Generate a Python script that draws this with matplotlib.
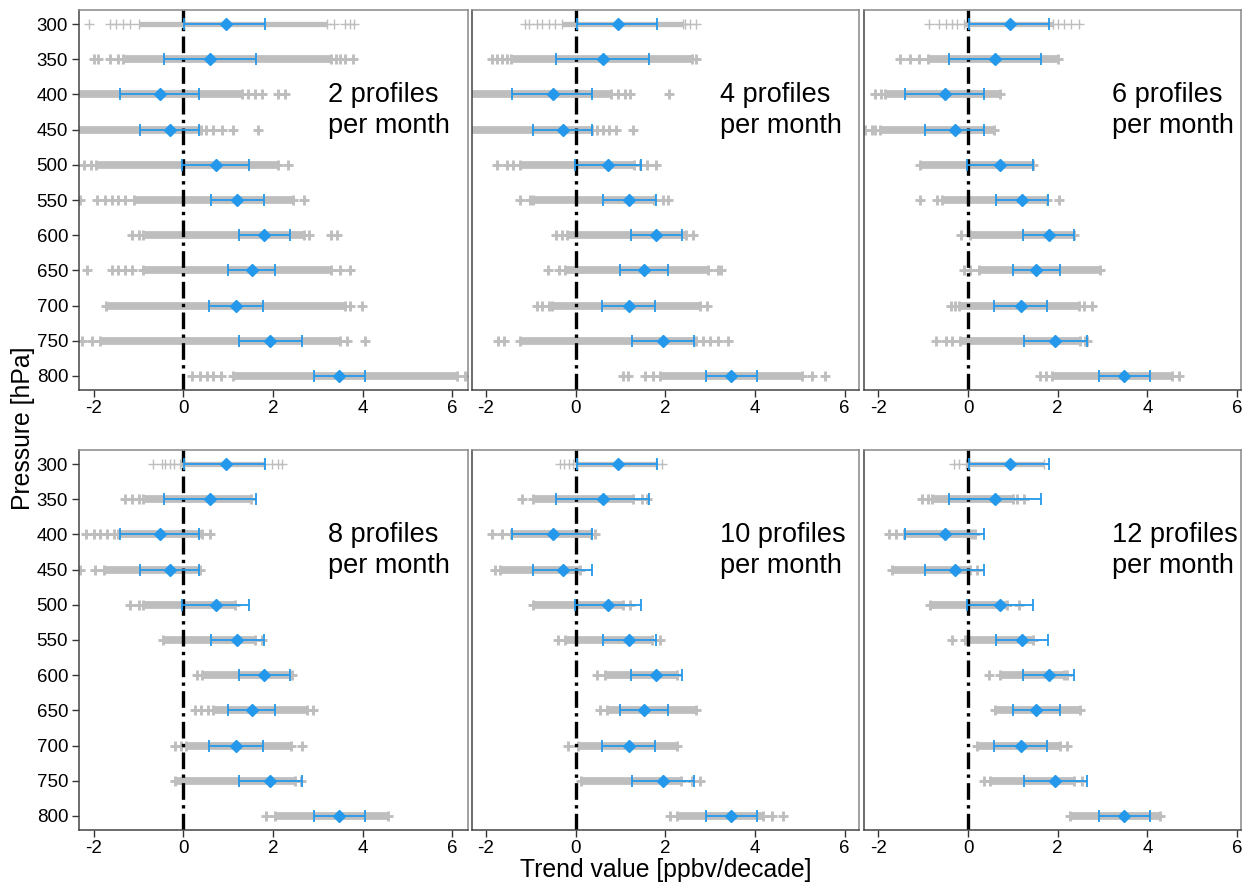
import matplotlib
matplotlib.use("Agg")
import matplotlib.pyplot as plt

plt.rcParams["font.family"] = ["Liberation Sans", "DejaVu Sans"]

# Pressure levels (hPa)
pressure = [300, 350, 400, 450, 500, 550, 600, 650, 700, 750, 800]

# Reference trend and its confidence interval (ppbv/decade)
trend_mean = [0.94, 0.60, -0.51, -0.29, 0.72, 1.20, 1.80, 1.52, 1.18, 1.94, 3.47]
ci_lo = [0.02, -0.43, -1.41, -0.96, -0.02, 0.62, 1.23, 1.00, 0.58, 1.25, 2.91]
ci_hi = [1.81, 1.63, 0.36, 0.36, 1.46, 1.79, 2.37, 2.05, 1.77, 2.65, 4.05]

# Subsampled trends: dense range per level plus isolated values
core_lo_2 = [-1.0, -1.34, -2.5, -2.5, -1.95, -1.1, -0.9, -0.9, -1.72, -1.86, 1.1]
core_hi_2 = [3.2, 3.3, 1.3, 0.4, 2.1, 2.45, 2.7, 3.3, 3.6, 3.5, 6.1]
extra_2 = [
    [-2.10, -1.64, -1.5, -1.35, -1.2, 3.35, 3.6, 3.72, 3.81],
    [-2.0, -1.9, -1.64, -1.45, 3.4, 3.5, 3.6, 3.79],
    [1.45, 1.6, 1.75, 2.12, 2.27],
    [0.5, 0.67, 0.86, 1.1, 1.67],
    [-2.22, -2.05, 2.34],
    [-2.3, -1.93, -1.75, -1.6, -1.45, -1.3, 2.68],
    [-1.15, -1.0, 2.8, 3.3, 3.42],
    [-2.14, -1.6, -1.45, -1.3, -1.15, 3.49, 3.72],
    [3.72, 3.98],
    [-2.27, -2.04, 3.64, 4.05],
    [0.19, 0.37, 0.52, 0.67, 0.85, 6.28],
]

core_lo_4 = [-0.3, -1.45, -2.5, -2.5, -1.24, -0.94, -0.2, -0.24, -0.53, -1.24, 1.88]
core_hi_4 = [2.4, 2.6, 0.8, 0.36, 1.3, 1.75, 2.47, 2.95, 2.77, 2.69, 5.05]
extra_4 = [
    [-1.13, -1.05, -0.87, -0.75, -0.6, -0.45, 2.45, 2.55, 2.69],
    [-1.87, -1.75, -1.65, -1.54, 2.69],
    [0.95, 1.1, 1.21, 2.09],
    [0.47, 0.6, 0.75, 0.91, 1.28],
    [-1.76, -1.54, -1.4, 1.43, 1.6, 1.8],
    [-1.24, -1.02, 1.95, 2.06],
    [-0.44, -0.3, 2.62],
    [-0.61, -0.36, 3.18, 3.25],
    [-0.87, -0.75, -0.6, 2.92],
    [-1.72, -1.6, 2.85, 3.0, 3.18, 3.4],
    [1.06, 1.17, 1.54, 1.73, 5.26, 5.55],
]

core_lo_6 = [-0.1, -0.9, -1.84, -1.96, -1.06, -0.58, 0.05, 0.24, -0.21, -0.17, 1.87]
core_hi_6 = [1.9, 2.0, 0.72, 0.57, 1.46, 1.76, 2.36, 2.95, 2.47, 2.5, 4.55]
extra_6 = [
    [-0.88, -0.65, -0.5, -0.36, -0.25, 2.0, 2.15, 2.3, 2.47],
    [-1.51, -1.29, -1.1],
    [-2.07, -1.95],
    [-2.29, -2.15, -2.07],
    [],
    [-1.08, -0.69, 2.02],
    [-0.15],
    [-0.08, 0.05],
    [-0.39, -0.28, 2.58, 2.77],
    [-0.71, -0.5, -0.35, 2.6, 2.65],
    [1.61, 1.75, 4.7],
]

core_lo_8 = [-0.07, -0.89, -1.45, -1.78, -0.89, -0.45, 0.41, 0.67, 0.07, -0.19, 2.04]
core_hi_8 = [1.8, 1.5, 0.41, 0.37, 1.15, 1.6, 2.42, 2.75, 2.4, 2.5, 4.57]
extra_8 = [
    [-0.67, -0.48, -0.4, -0.3, -0.2, 1.97, 2.1, 2.19],
    [-1.3, -1.15, -1.0],
    [-2.16, -2.0, -1.85, -1.7, -1.55, 0.6],
    [-2.3, -1.97],
    [-1.19, -1.0],
    [1.75],
    [0.3],
    [0.26, 0.4, 0.55, 2.9],
    [-0.19, -0.05, 2.64],
    [2.62],
    [1.84],
]

core_lo_10 = [0.0, -0.94, -1.43, -1.69, -0.94, -0.24, 0.65, 0.69, 0.06, 0.13, 2.25]
core_hi_10 = [1.8, 1.28, 0.35, 0.1, 1.06, 1.7, 2.25, 2.69, 2.25, 2.36, 4.18]
extra_10 = [
    [-0.35, -0.25, -0.15, -0.05, 1.92],
    [-1.2, 1.47, 1.6],
    [-1.87, -1.65, 0.43],
    [-1.8],
    [1.21],
    [-0.39, 1.88],
    [0.47],
    [0.54],
    [-0.16],
    [2.6, 2.77],
    [2.1, 4.37, 4.63],
]

core_lo_12 = [-0.05, -0.8, -1.43, -1.7, -0.84, 0.0, 0.72, 0.61, 0.2, 0.5, 2.28]
core_hi_12 = [1.69, 1.0, 0.1, 0.05, 0.87, 1.46, 2.13, 2.5, 2.06, 2.36, 4.29]
extra_12 = [
    [-0.32, -0.2],
    [-1.03, -0.9, 1.1, 1.24],
    [-1.77, -1.6, 0.16],
    [0.2],
    [1.13],
    [-0.36, -0.06],
    [0.46, 2.2],
    [],
    [2.2],
    [0.35, 2.54],
    [],
]

panel_labels = ["2 profiles\nper month", "4 profiles\nper month", "6 profiles\nper month",
                "8 profiles\nper month", "10 profiles\nper month", "12 profiles\nper month"]
panel_data = [
    (core_lo_2, core_hi_2, extra_2),
    (core_lo_4, core_hi_4, extra_4),
    (core_lo_6, core_hi_6, extra_6),
    (core_lo_8, core_hi_8, extra_8),
    (core_lo_10, core_hi_10, extra_10),
    (core_lo_12, core_hi_12, extra_12),
]

GREY = "#bebebe"
BLUE = "#2499ec"
W, H = 1243, 883
PX_PER_UNIT = 44.85

fig = plt.figure(figsize=(W / 100, H / 100), dpi=100)

# column layout: left pixel edge and x-limits of each column
columns = [(79.3, (-2.32, 6.34)), (472.0, (-2.31, 6.31)), (863.5, (-2.33, 6.08))]
rows = [(10, 390), (450, 830)]

for idx, (label, (clo, chi, extra)) in enumerate(zip(panel_labels, panel_data)):
    r, c = divmod(idx, 3)
    left_px, xlim = columns[c]
    width_px = (xlim[1] - xlim[0]) * PX_PER_UNIT
    top_px, bot_px = rows[r]
    ax = fig.add_axes([left_px / W, 1 - bot_px / H, width_px / W, (bot_px - top_px) / H])
    ax.set_xlim(*xlim)
    ax.set_ylim(820, 280)

    for i, p in enumerate(pressure):
        thin = (i == 0)
        lw_band = 3.8 if thin else 5.6
        mew = 1.0 if thin else 2.1
        ax.hlines(p, clo[i], chi[i], color=GREY, lw=lw_band, zorder=1, capstyle="butt")
        pts = [clo[i], chi[i]] + extra[i]
        ax.plot(pts, [p] * len(pts), ls="none", marker="+", ms=6.8, mew=mew,
                color=GREY, zorder=1, clip_on=True)

    ax.axvline(0, color="black", lw=2.4, dashes=(5.0, 1.6, 1.0, 1.6), zorder=2)

    xerr = [[m - lo for m, lo in zip(trend_mean, ci_lo)],
            [hi - m for m, hi in zip(trend_mean, ci_hi)]]
    ax.errorbar(trend_mean, pressure, xerr=xerr, fmt="D", color=BLUE, ms=6,
                elinewidth=1.3, capsize=4, capthick=1.3, zorder=3)

    ax.text(3.22, 423, label, ha="left", va="center", fontsize=19.5,
            linespacing=1.25, color="black")

    ax.set_xticks([-2, 0, 2, 4, 6])
    ax.set_xticklabels(["-2", "0", "2", "4", "6"])
    ax.tick_params(axis="x", direction="out", length=5, width=1, labelsize=13.5,
                   colors="#333333", labelcolor="black", pad=2)
    if c == 0:
        ax.set_yticks(pressure)
        ax.set_yticklabels([str(p) for p in pressure])
        ax.tick_params(axis="y", direction="out", length=5, width=1, labelsize=13.5,
                       colors="#333333", labelcolor="black", pad=3)
    else:
        ax.set_yticks([])

    for side in ("left", "bottom"):
        ax.spines[side].set_color("#444444")
        ax.spines[side].set_linewidth(1.1)
    for side in ("top", "right"):
        ax.spines[side].set_color("#888888")
        ax.spines[side].set_linewidth(1.1)

fig.text(23 / W, 1 - 428 / H, "Pressure [hPa]", rotation=90, ha="center", va="center",
         fontsize=17.8)
fig.text(666 / W, 1 - 870 / H, "Trend value [ppbv/decade]", ha="center", va="center",
         fontsize=17.8)

fig.savefig("out.png", dpi=100)
